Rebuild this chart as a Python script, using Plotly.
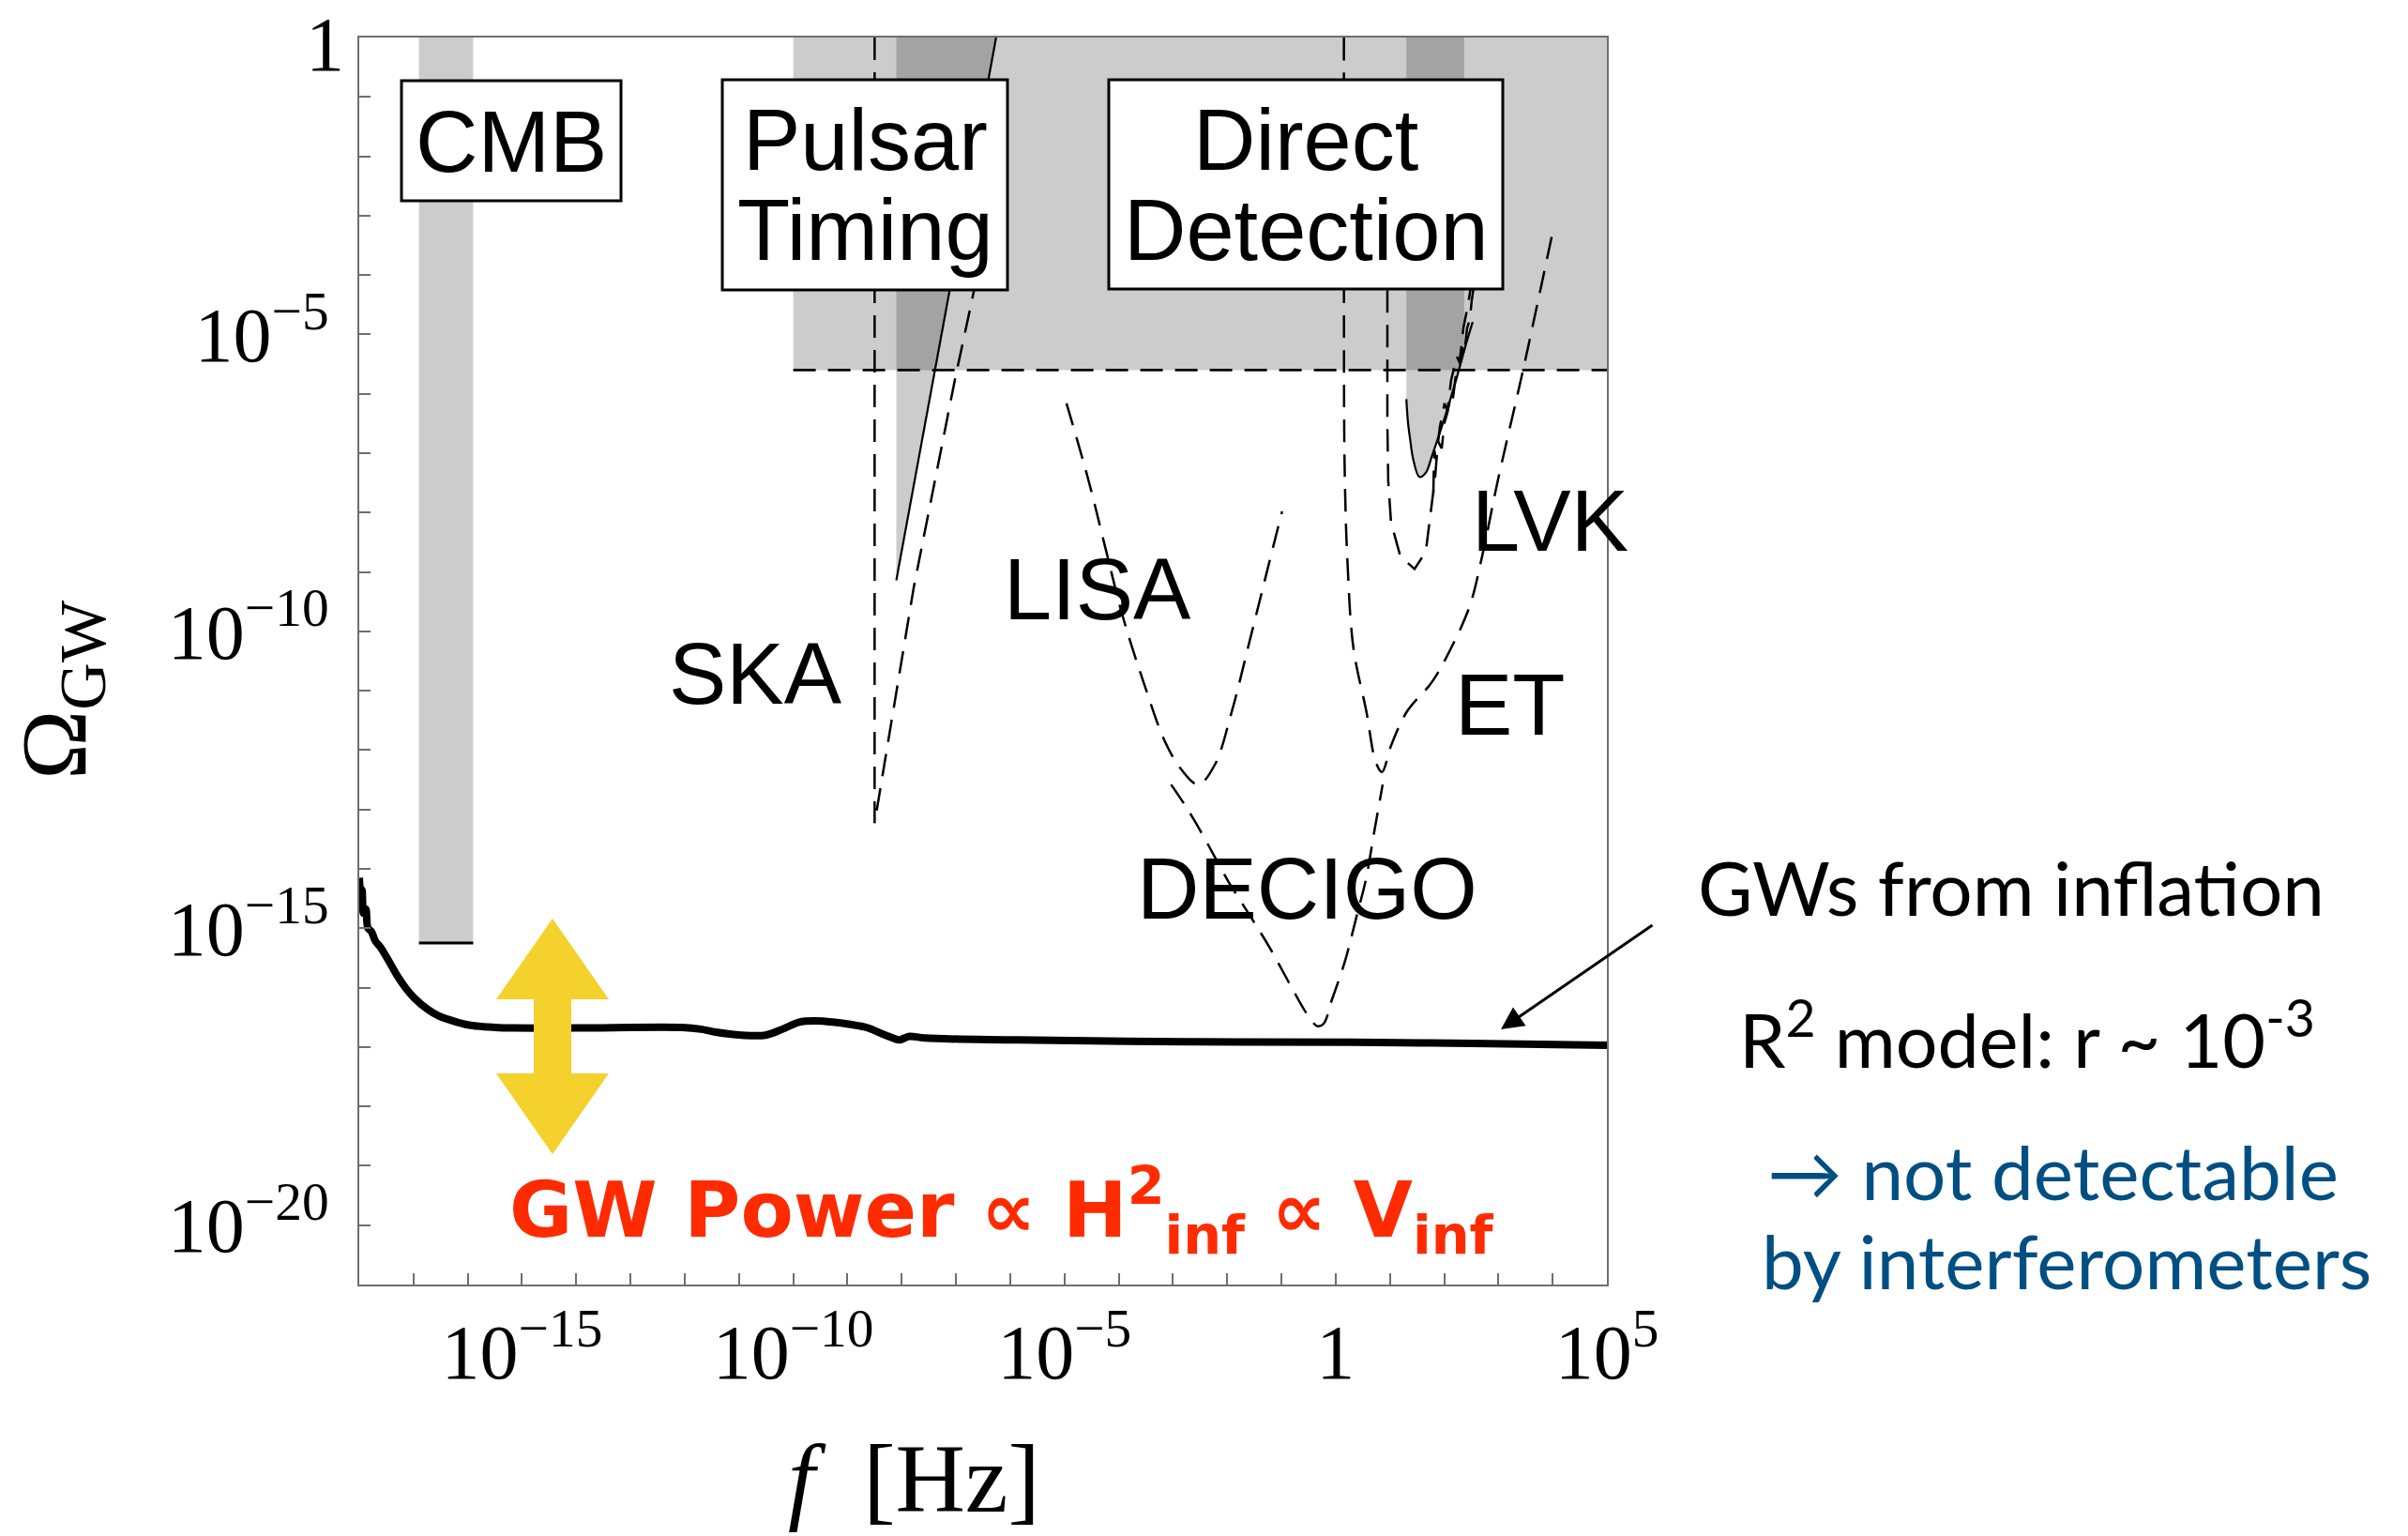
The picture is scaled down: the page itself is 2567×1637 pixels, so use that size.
import numpy as np
import plotly.graph_objects as go

# ---------------------------------------------------------------
# Data (log10 of frequency in Hz, log10 of Omega_GW)
# ---------------------------------------------------------------
XRANGE = [-18, 5]
YRANGE = [-21, 0]

x_minor_exp = list(range(-18, 6))
x_label_exp = [-15, -10, -5, 0, 5]
x_label_text = ["10<sup>−15</sup>", "10<sup>−10</sup>", "10<sup>−5</sup>", "1", "10<sup>5</sup>"]
y_minor_exp = list(range(-21, 1))
y_label_exp = [-5, -10, -15, -20]
y_label_text = ["10<sup>−5</sup>", "10<sup>−10</sup>", "10<sup>−15</sup>", "10<sup>−20</sup>"]
y_top_label = "1"

# Inflationary GW background (R^2 model)
infl_logf = [-18.00, -17.97, -17.95, -17.92, -17.88, -17.84, -17.78, -17.70, -17.61, -17.45,
             -17.30, -17.15, -16.99, -16.75, -16.53, -16.20, -15.91, -15.50, -15.14, -14.00,
             -12.05, -11.70, -11.43, -10.95, -10.51, -10.20, -9.89, -9.58, -9.27, -8.95,
             -8.65, -8.30, -8.04, -7.95, -7.85, -7.57, -5.88, -2.78, 0.30, 2.50, 5.00]
infl_logom = [-14.15, -14.45, -14.35, -14.75, -14.68, -15.00, -15.05, -15.22, -15.32, -15.56,
              -15.80, -16.00, -16.17, -16.36, -16.48, -16.58, -16.64, -16.67, -16.68, -16.68,
              -16.67, -16.70, -16.75, -16.80, -16.80, -16.70, -16.58, -16.56, -16.58, -16.62,
              -16.67, -16.80, -16.88, -16.85, -16.82, -16.85, -16.88, -16.91, -16.92, -16.94, -16.97]

# CMB band
cmb_logf = [-16.9, -15.9]
cmb_logom_min = -15.25

# Pulsar timing + direct detection excluded region (BBN-like bound)
dd_logf = [-10.0, 5.3]
dd_logom_max = -5.6

# Pulsar timing constraint edge
pta_logf = [-8.10, -6.26]
pta_logom = [-9.14, 0.0]

# LVK observing-run constraint
lvko3_logf = [1.303, 1.333, 1.372, 1.431, 1.545, 1.661, 1.777, 2.007, 2.237, 2.410, 2.526]
lvko3_logom = [-6.09, -6.48, -6.76, -7.11, -7.40, -7.33, -7.04, -6.41, -5.71, -5.14, -4.79]
lvko3_edge = 2.37

# Sensitivity curves
ska_logf = [-8.50, -8.50, -7.78, -7.01, -6.66, -6.38]
ska_logom = [0.0, -13.23, -9.27, -5.72, -4.23, -3.00]

lisa_logf = [-4.962, -4.547, -4.236, -3.925, -3.533, -3.150, -2.842, -2.532, -2.230,
             -1.918, -1.607, -1.296, -0.988]
lisa_logom = [-6.16, -7.49, -8.63, -9.75, -10.88, -11.85, -12.33, -12.58, -12.25,
              -11.36, -10.24, -9.10, -7.98]

decigo_logf = [-3.034, -2.686, -2.378, -1.993, -1.607, -1.220, -0.834, -0.525, -0.333,
               -0.224, -0.068, 0.170, 0.399, 0.555, 0.710, 0.866]
decigo_logom = [-12.58, -13.06, -13.55, -14.19, -14.75, -15.32, -15.96, -16.45, -16.65,
                -16.61, -16.20, -15.56, -14.75, -14.19, -13.38, -12.58]

et_logf = [0.152, 0.152, 0.166, 0.220, 0.329, 0.566, 0.739, 0.853, 1.027, 1.315, 1.777,
           2.123, 2.469, 2.699, 2.987, 3.447, 3.995]
et_logom = [0.0, -4.11, -7.27, -8.88, -10.29, -11.35, -12.20, -12.37, -11.91, -11.35, -10.85,
            -10.29, -9.58, -8.74, -7.47, -5.63, -3.30]

lvk_logf = [0.953, 0.953, 0.969, 1.021, 1.194, 1.454, 1.661, 1.748, 1.834, 1.886, 1.955,
            2.007, 2.059, 2.128, 2.162, 2.214, 2.284, 2.335, 2.370, 2.422, 2.474, 2.508, 2.560]
lvk_logom = [-2.5, -6.5, -7.47, -8.17, -8.74, -8.95, -8.66, -8.03, -7.40, -6.80, -6.92,
             -6.48, -6.32, -6.01, -6.08, -5.69, -5.53, -5.22, -5.34, -4.90, -4.74, -4.43, -4.11]

lvkd_logf = [1.800, 1.817, 1.851, 1.920, 2.007, 2.059, 2.128, 2.232, 2.284, 2.353, 2.439, 2.508]
lvkd_logom = [-7.67, -6.95, -7.11, -6.56, -6.16, -6.29, -5.77, -5.37, -5.47, -4.90, -4.50, -4.11]

# ---------------------------------------------------------------
# Page geometry
# ---------------------------------------------------------------
W, H = 2567, 1637
L, R, T, B = 383, 854, 40, 268
PW, PH = W - L - R, H - T - B


def px(x):
    return (x - L) / PW


def py(y):
    return (H - B - y) / PH


def p10(v):
    return [10.0 ** t for t in v]


SHADE = "rgba(0,0,0,0.2)"
DASH = "24px,13px"

fig = go.Figure()


def region(xs, ys):
    fig.add_trace(go.Scatter(x=p10(xs), y=p10(ys), mode="lines", fill="toself",
                             fillcolor=SHADE, line=dict(width=0), hoverinfo="skip"))


def curve(xs, ys, dash=DASH, width=2.5, shape="linear", color="black"):
    fig.add_trace(go.Scatter(x=p10(xs), y=p10(ys), mode="lines",
                             line=dict(color=color, width=width, dash=dash, shape=shape),
                             hoverinfo="skip"))


# shaded exclusion regions
region([cmb_logf[0], cmb_logf[1], cmb_logf[1], cmb_logf[0]],
       [0.3, 0.3, cmb_logom_min, cmb_logom_min])
region([dd_logf[0], dd_logf[1], dd_logf[1], dd_logf[0]],
       [0.3, 0.3, dd_logom_max, dd_logom_max])
region([pta_logf[0], pta_logf[1], pta_logf[1], pta_logf[0]],
       [pta_logom[0], pta_logom[1], 0.3, 0.3])
lvk_poly_f = [lvko3_logf[0]] + lvko3_logf[:9] + [lvko3_edge, lvko3_edge]
lvk_poly_o = [0.3] + lvko3_logom[:9] + [-5.25, 0.3]
region(lvk_poly_f, lvk_poly_o)

# boundary lines
curve(cmb_logf, [cmb_logom_min, cmb_logom_min], dash="solid", width=3)
curve(dd_logf, [dd_logom_max, dd_logom_max], width=2.7)
curve(pta_logf, pta_logom, dash="solid", width=2.2)
curve(lvko3_logf, lvko3_logom, dash="solid", width=2.2, shape="spline")

# detector sensitivities
curve(ska_logf, ska_logom)
curve(lisa_logf, lisa_logom, shape="spline")
curve(decigo_logf, decigo_logom, shape="spline")
curve(et_logf, et_logom, shape="spline")
curve(lvk_logf, lvk_logom)
curve(lvkd_logf, lvkd_logom)

# inflationary spectrum
curve(infl_logf, infl_logom, dash="solid", width=8, shape="spline")

# ---------------------------------------------------------------
# Axes
# ---------------------------------------------------------------
TICKC = "#6e6e6e"
TICKFONT = dict(family="Liberation Serif, Times New Roman, serif", size=82, color="black")
axis_common = dict(type="log", showgrid=False, zeroline=False, showline=True, mirror=True,
                   linecolor=TICKC, linewidth=2, ticks="inside", ticklen=12,
                   tickwidth=1.5, tickcolor=TICKC, tickmode="array",
                   automargin=False, tickfont=TICKFONT)
fig.update_xaxes(range=XRANGE, tickvals=p10(x_label_exp), ticktext=x_label_text,
                 ticklabelstandoff=0,
                 minor=dict(tickmode="array", tickvals=p10(x_minor_exp), ticks="inside",
                            ticklen=12, tickwidth=1.5, tickcolor=TICKC, showgrid=False),
                 **axis_common)
fig.update_yaxes(range=YRANGE, tickvals=p10(y_label_exp), ticktext=y_label_text,
                 ticklabelstandoff=14,
                 minor=dict(tickmode="array", tickvals=p10(y_minor_exp), ticks="inside",
                            ticklen=12, tickwidth=1.5, tickcolor=TICKC, showgrid=False),
                 **axis_common)

# ---------------------------------------------------------------
# Boxes, arrow and text
# ---------------------------------------------------------------
shapes = []
for (x0, x1, y0, y1) in [(428, 662, 86, 214), (770, 1074, 85, 309), (1182, 1602, 85, 308)]:
    shapes.append(dict(type="rect", xref="paper", yref="paper", layer="above",
                       x0=px(x0), x1=px(x1), y0=py(y1), y1=py(y0),
                       fillcolor="white", line=dict(color="black", width=3)))

# yellow double arrow
cx, sw, hw = 589, 20, 60
ytop, yhb, ylb, ybot = 979, 1065, 1144, 1230
pts = [(cx, ytop), (cx + hw, yhb), (cx + sw, yhb), (cx + sw, ylb), (cx + hw, ylb), (cx, ybot),
       (cx - hw, ylb), (cx - sw, ylb), (cx - sw, yhb), (cx - hw, yhb)]
path = "M " + " L ".join(f"{px(a):.5f},{py(b):.5f}" for a, b in pts) + " Z"
shapes.append(dict(type="path", xref="paper", yref="paper", layer="above", path=path,
                   fillcolor="#f4d12c", line=dict(width=0)))

SANS = "Liberation Sans, Arial, sans-serif"
GILL = "Lato, Open Sans, sans-serif"
SERIF = "Liberation Serif, Times New Roman, serif"

annotations = []

# label of the top y tick, nudged so it stays inside the page
annotations.append(dict(text=y_top_label, x=0, y=YRANGE[1], xref="paper", yref="y",
                        xanchor="right", yanchor="middle", xshift=-14, yshift=-7,
                        showarrow=False, font=TICKFONT))


def text(t, x, baseline, size, family, color="black", xanchor="center",
         asc=0.905, desc=0.212, angle=0, weight="normal"):
    cy = baseline - (asc - desc) / 2 * size
    annotations.append(dict(text=t, x=px(x), y=py(cy), xref="paper", yref="paper",
                            xanchor=xanchor, yanchor="middle", showarrow=False,
                            textangle=angle,
                            font=dict(size=size, family=family, color=color, weight=weight)))


text("CMB", 545, 183, 92, SANS)
text("Pulsar", 922, 181, 92, SANS)
text("Timing", 922, 277, 92, SANS)
text("Direct", 1392, 181, 92, SANS)
text("Detection", 1392, 277, 92, SANS)
text("SKA", 805, 750, 92, SANS)
text("LISA", 1170, 660, 92, SANS)
text("DECIGO", 1393, 979, 92, SANS)
text("LVK", 1652, 587, 92, SANS)
text("ET", 1610, 783, 92, SANS)

text("GWs from inflation", 1808, 976, 80, GILL, xanchor="left", asc=0.987, desc=0.213)
text("R<sup>2</sup> model: r ~ 10<sup>-3</sup>", 1852, 1133, 79, GILL, xanchor="left",
     asc=0.987, desc=0.213)
text("→ not detectable", 1882, 1279, 80, GILL, color="#004f82", xanchor="left",
     asc=0.987, desc=0.213)
text("by interferometers", 1876, 1374, 80, GILL, color="#004f82", xanchor="left",
     asc=0.987, desc=0.213)

annotations.append(dict(
    text="GW Power ∝ H<sup>2</sup><sub>inf</sub> ∝ V<sub>inf</sub>",
    x=px(1068), y=py(1290), xref="paper", yref="paper", xanchor="center", yanchor="middle",
    showarrow=False,
    font=dict(size=82, family="DejaVu Sans, sans-serif", color="#ff2b00", weight="bold")))

# axis titles
annotations.append(dict(text="Ω<sub>GW</sub>", x=px(64), y=py(736), xref="paper", yref="paper",
                        xanchor="center", yanchor="middle", showarrow=False, textangle=-90,
                        font=dict(size=100, family=SERIF, color="black")))
annotations.append(dict(text="<i>f</i>  [Hz]", x=px(974), y=py(1576), xref="paper", yref="paper",
                        xanchor="center", yanchor="middle", showarrow=False,
                        font=dict(size=103, family=SERIF, color="black")))

# pointer to the inflation curve
annotations.append(dict(text="", x=px(1600), y=py(1097), xref="paper", yref="paper",
                        ax=163, ay=-112, axref="pixel", ayref="pixel", showarrow=True,
                        arrowhead=2, arrowsize=1.6, arrowwidth=3, arrowcolor="black"))

fig.update_layout(width=W, height=H, autosize=False,
                  margin=dict(l=L, r=R, t=T, b=B, pad=0),
                  paper_bgcolor="white", plot_bgcolor="white", showlegend=False,
                  shapes=shapes, annotations=annotations)

fig.write_html("out.html")
